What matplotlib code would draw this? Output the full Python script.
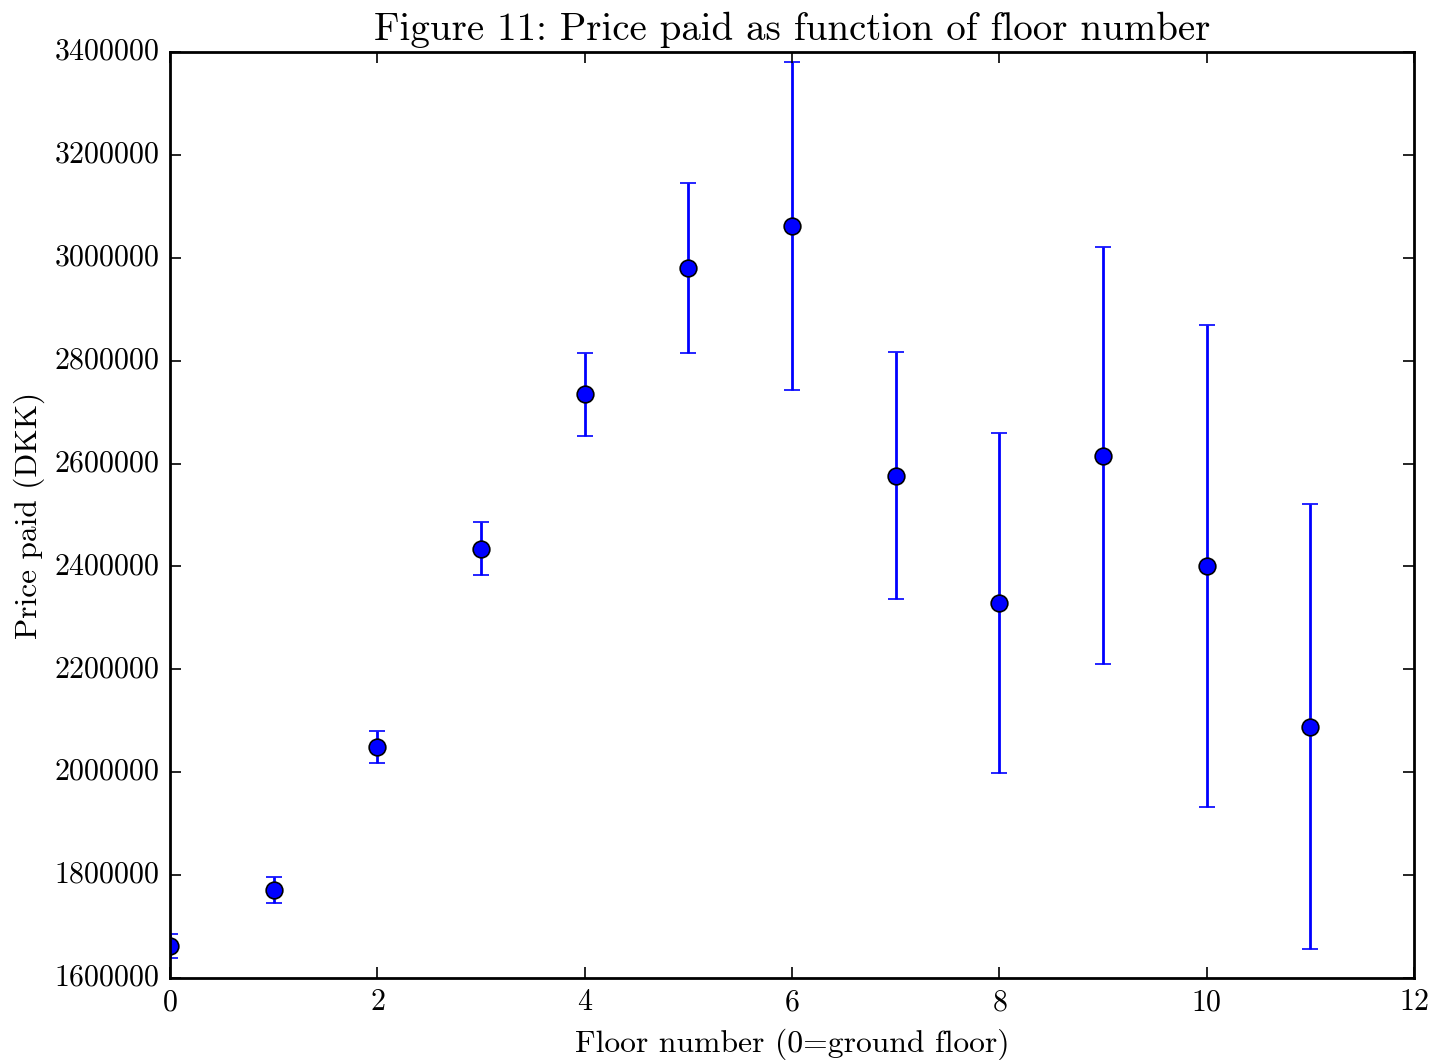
import numpy as np
import matplotlib
matplotlib.use("Agg")
import matplotlib.pyplot as plt

plt.style.use('classic')
plt.rcParams['font.family'] = ['cmr10', 'DejaVu Serif']
plt.rcParams['axes.formatter.use_mathtext'] = True

# mean price and error per floor
floors = [0, 1, 2, 3, 4, 5, 6, 7, 8, 9, 10, 11]
price = [1662000, 1771000, 2049000, 2434000, 2735000, 2980000,
         3062000, 2576000, 2329000, 2615000, 2401000, 2088000]
price_err = [24000, 25000, 32000, 51500, 80700, 165000,
             318700, 240000, 330400, 405200, 468400, 432500]

fig = plt.figure(figsize=(14.41, 10.60), dpi=100, facecolor='white')
ax = fig.add_axes([0.118, 0.0774, 0.8633, 0.8735])

ax.errorbar(floors, price, yerr=price_err, fmt='o', color='blue',
            ecolor='blue', markersize=12, markeredgecolor='black',
            markeredgewidth=1.2, elinewidth=2, capsize=6, capthick=1.5)

ax.set_xlim(0, 12)
ax.set_ylim(1600000, 3400000)
ax.set_xticks(np.arange(0, 13, 2))
ax.set_yticks(np.arange(1600000, 3400001, 200000))
ax.ticklabel_format(style='plain', useOffset=False)

for s in ax.spines.values():
    s.set_linewidth(2)
ax.tick_params(labelsize=21.5, length=8, width=1.2, direction='in',
               top=True, right=True, pad=8)

ax.set_title('Figure 11: Price paid as function of floor number',
             fontsize=28, pad=9)
ax.set_xlabel('Floor number (0=ground floor)', fontsize=22.8, labelpad=9)
ax.set_ylabel('Price paid (DKK)', fontsize=22.6, labelpad=6)

fig.savefig('out.png', dpi=100, facecolor='white')
